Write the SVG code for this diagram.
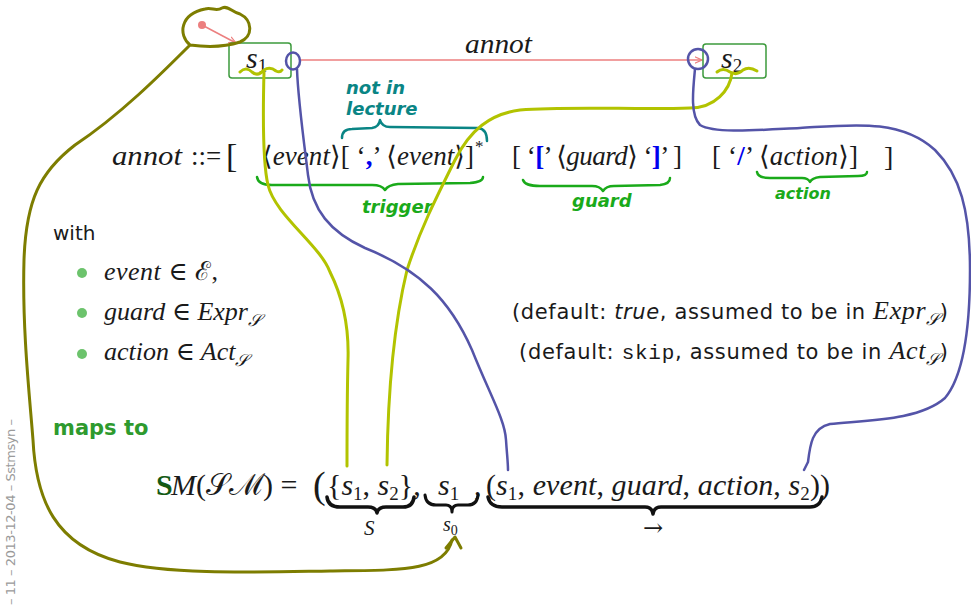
<svg xmlns="http://www.w3.org/2000/svg" width="971" height="612" viewBox="0 0 971 612">
<style>
.m{font-family:"Liberation Serif","DejaVu Serif",serif;font-style:normal;fill:#1a1a1a}
.i{font-style:italic}
.n{font-style:normal}
.sans{font-family:"DejaVu Sans","Liberation Sans",sans-serif;fill:#1a1a1a}
.mono{font-family:"Liberation Mono","DejaVu Sans Mono",monospace}
.hand{font-family:"DejaVu Sans","Liberation Sans",sans-serif;font-weight:bold;font-style:italic}
.box{fill:#fff;stroke:#3c9a3c;stroke-width:1.5}
.ink{fill:none;stroke-linecap:round;stroke-linejoin:round}
.olive{stroke:#7d7d00;stroke-width:3}
.yg{stroke:#b2c300;stroke-width:3}
.blue{stroke:#5454a8;stroke-width:2.5}
.teal{stroke:#0a8585;stroke-width:2.5}
.grn{stroke:#1aaa1a;stroke-width:2.5}
.brace{fill:none;stroke:#111;stroke-linecap:round;stroke-linejoin:round}
.bm{fill:#0000ee;font-weight:bold}
</style>
<defs>
<marker id="ah" viewBox="0 0 10 10" refX="9" refY="5" markerWidth="8" markerHeight="8" markerUnits="userSpaceOnUse" orient="auto">
<path d="M0,1 L9,5 L0,9" fill="none" stroke="#ec7f7f" stroke-width="1.5"/>
</marker>
</defs>

<g id="connectors">
<circle cx="202" cy="25" r="4" fill="#ec7f7f"/>
<line x1="202" y1="25" x2="236" y2="43" stroke="#ec7f7f" stroke-width="1.5" marker-end="url(#ah)"/>
<line x1="300" y1="60" x2="702" y2="60" stroke="#ec7f7f" stroke-width="1.5" marker-end="url(#ah)"/>
<text class="m i" x="465" y="53" font-size="28" textLength="67" lengthAdjust="spacingAndGlyphs">annot</text>
</g>

<g id="s1">
<rect class="box" x="229" y="43" width="62" height="35" rx="3"/>
<text class="m i" x="246" y="68" font-size="30">s<tspan class="n" font-size="19" dy="4">1</tspan></text>
</g>
<g id="s2">
<rect class="box" x="703" y="44" width="63" height="34" rx="3"/>
<text class="m i" x="721" y="68" font-size="30">s<tspan class="n" font-size="19" dy="4">2</tspan></text>
</g>

<g id="grammar">
<text class="m i" x="112" y="165" font-size="28" textLength="70" lengthAdjust="spacingAndGlyphs">annot</text>
<text class="m" x="191" y="165" font-size="27">::=</text>
<text class="m" x="226" y="167" font-size="34">[</text>
<text class="m" x="262" y="165" font-size="27" textLength="212">⟨<tspan class="i">event</tspan>⟩[ ‘<tspan class="bm">,</tspan>’ ⟨<tspan class="i">event</tspan>⟩]</text>
<text class="m" x="475" y="152" font-size="17">*</text>
<text class="m" x="512" y="165" font-size="27" textLength="170">[ ‘<tspan class="bm">[</tspan>’ ⟨<tspan class="i">guard</tspan>⟩ ‘<tspan class="bm">]</tspan>’ ]</text>
<text class="m" x="712" y="165" font-size="27" textLength="146">[ ‘<tspan class="bm">/</tspan>’ ⟨<tspan class="i">action</tspan>⟩]</text>
<text class="m" x="884" y="166" font-size="28">]</text>
</g>

<g id="annotations">
<text class="hand" x="346" y="94" font-size="18" fill="#0a8585">not in</text>
<text class="hand" x="346" y="115" font-size="18" fill="#0a8585">lecture</text>
<path class="ink teal" d="M342,138 Q342,129 352,129 L372,128 Q379,127 380,120 Q382,127 390,127 L478,128 Q487,129 487,141"/>
<path class="ink grn" d="M257,177 Q258,185 272,185 L372,185 Q382,185 385,190 Q388,185 398,184 L470,183 Q483,182 483,177"/>
<text class="hand" x="362" y="213" font-size="18" fill="#1aaa1a">trigger</text>
<path class="ink grn" d="M523,180 Q525,186 540,186 L592,186 Q600,186 603,191 Q606,186 614,186 L660,185 Q670,184 670,178"/>
<text class="hand" x="572" y="207" font-size="18" fill="#1aaa1a">guard</text>
<path class="ink grn" d="M757,172 Q758,178 770,178 L802,178 Q808,178 810,182 Q812,178 820,177 L858,176 Q867,176 867,172"/>
<text class="hand" x="775" y="199" font-size="16" fill="#1aaa1a">action</text>
</g>

<g id="with">
<text class="sans" x="53" y="240" font-size="20">with</text>
<circle cx="82" cy="273" r="5" fill="#6cc36c"/>
<circle cx="82" cy="313" r="5" fill="#6cc36c"/>
<circle cx="82" cy="354" r="5" fill="#6cc36c"/>
<text class="m i" x="104" y="280" font-size="26" textLength="114">event <tspan class="n">∈ ℰ,</tspan></text>
<text class="m i" x="104" y="320" font-size="26">guard <tspan class="n">∈</tspan> Expr<tspan font-size="17" dy="6">𝒮</tspan></text>
<text class="m i" x="104" y="360" font-size="26">action <tspan class="n">∈</tspan> Act<tspan font-size="17" dy="6">𝒮</tspan></text>
<text class="sans" x="512" y="319" font-size="21" textLength="436">(default: <tspan font-style="italic">true</tspan>, assumed to be in <tspan class="m i" font-size="26">Expr</tspan><tspan class="m i" font-size="17" dy="6">𝒮</tspan><tspan dy="-6">)</tspan></text>
<text class="sans" x="519" y="359" font-size="21" textLength="429">(default: <tspan class="mono">skip</tspan>, assumed to be in <tspan class="m i" font-size="26">Act</tspan><tspan class="m i" font-size="17" dy="6">𝒮</tspan><tspan dy="-6">)</tspan></text>
</g>

<g id="mapsto">
<text class="sans" x="53" y="435" font-size="21" font-weight="bold" style="fill:#2e9a2e">maps to</text>
<text class="m" x="156" y="495" font-size="30" font-weight="bold" style="fill:#145a14" font-style="italic">S</text>
<text class="m" x="171" y="495" font-size="30"><tspan class="i">M</tspan>(𝒮ℳ) =</text>
<text class="m" x="313" y="498" font-size="38">(</text>
<text class="m" x="327" y="495" font-size="30">{<tspan class="i">s</tspan><tspan font-size="19" dy="5">1</tspan><tspan dy="-5">, </tspan><tspan class="i">s</tspan><tspan font-size="19" dy="5">2</tspan><tspan dy="-5">},</tspan></text>
<text class="m" x="438" y="495" font-size="30"><tspan class="i">s</tspan><tspan font-size="19" dy="5">1</tspan></text>
<text class="m" x="474" y="495" font-size="30">,</text>
<text class="m" x="486" y="495" font-size="30" textLength="344">(<tspan class="i">s</tspan><tspan font-size="19" dy="5">1</tspan><tspan dy="-5">, </tspan><tspan class="i">event</tspan>, <tspan class="i">guard</tspan>, <tspan class="i">action</tspan>, <tspan class="i">s</tspan><tspan font-size="19" dy="5">2</tspan><tspan dy="-5">))</tspan></text>
<path class="brace" stroke-width="3.5" d="M327,497 Q328,507 340,507 L368,507 Q376,507 377,513 Q378,507 386,507 L403,507 Q413,507 414,497"/>
<text class="m i" x="364" y="535" font-size="21">S</text>
<path class="brace" stroke-width="3" d="M425,495 Q426,505 436,505 L446,505 Q452,505 452,512 Q452,505 458,505 L468,505 Q477,505 478,495"/>
<text class="m i" x="443" y="531" font-size="20">s<tspan class="n" font-size="14" dy="4">0</tspan></text>
<path class="brace" stroke-width="3.5" d="M488,497 Q490,507 502,507 L645,507 Q652,507 653,514 Q654,507 661,507 L810,507 Q820,507 822,497"/>
<text x="643" y="536" font-family="DejaVu Serif, serif" font-size="24" fill="#1a1a1a">→</text>
</g>

<g id="ink">
<path class="ink olive" d="M190,45 C178,35 180,14 205,9 C212,7 216,12 222,8 C228,5 232,12 240,14 C252,20 254,36 240,42 C225,47 205,47 190,45 C160,75 120,115 75,145 C40,172 26,200 24,260 C22,330 30,400 33,440 C36,500 55,545 120,562 C170,575 260,572 330,571 C400,570 445,572 452,540"/>
<path class="ink olive" d="M446,548 L455,537 L461,548"/>
<path class="ink yg" d="M240,72 Q246,66 252,72 Q258,77 264,70 Q270,66 276,71 Q280,73 282,70"/>
<path class="ink yg" d="M264,72 C263,110 262,160 268,185 C275,215 320,245 330,272 C344,300 349,330 348,360 C347,400 347,440 347,466"/>
<path class="ink yg" d="M717,72 Q723,67 730,72 Q737,76 743,70 Q749,66 757,71"/>
<path class="ink yg" d="M732,73 C730,90 715,108 690,108 C640,110 570,106 520,110 C490,114 470,130 455,160 C435,200 420,230 407,270 C395,320 388,380 387,465"/>
<ellipse class="ink blue" cx="293" cy="61" rx="7" ry="8.5"/>
<path class="ink blue" d="M297,69 C298,100 305,150 308,175 C312,210 330,232 365,248 C420,270 450,300 472,350 C490,395 505,420 506,440 C507,455 508,463 508,470"/>
<circle class="ink blue" cx="698" cy="59" r="10"/>
<path class="ink blue" d="M695,69 C693,90 690,115 700,125 C715,134 760,130 800,128 C850,125 900,118 935,150 C960,175 970,210 970,270 C970,340 960,380 945,398 C920,420 870,420 830,424 C812,428 810,445 808,462 L804,470"/>
</g>

<g id="footer">
<text transform="translate(15,419) rotate(-90)" text-anchor="end" font-family="DejaVu Sans, sans-serif" font-size="13" fill="#9a9a9a" textLength="186">– 11 – 2013-12-04 – Sstmsyn –</text>
</g>
</svg>
